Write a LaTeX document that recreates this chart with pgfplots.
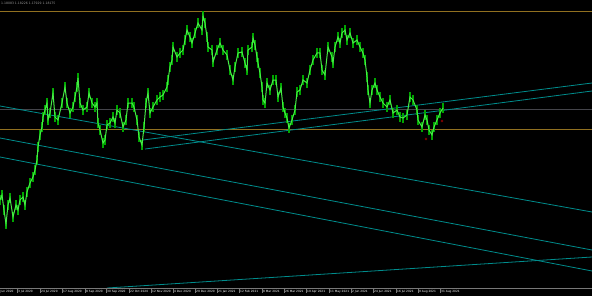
\documentclass[border=0pt]{standalone}
\usepackage{pgfplots}
\pgfplotsset{compat=1.18}
\usepackage{fontspec}
\setmainfont{DejaVu Sans}
\definecolor{bull}{RGB}{70,235,70}
\definecolor{wick}{RGB}{0,165,0}
\definecolor{tline}{RGB}{0,140,140}
\definecolor{gold}{RGB}{145,112,32}
\definecolor{hgray}{RGB}{68,68,74}
\definecolor{axgray}{RGB}{120,120,120}
\pgfplotstableread{
px py
0 200
2 195
4 210
6 224
8 205
10 198
13 217
16 205
18 210
20 200
23 197
25 205
27 192
30 183
33 177
35 170
37 160
38 147
40 135
42 127
43 117
45 110
47 103
48 120
50 113
53 93
55 117
58 120
62 103
65 87
67 103
70 113
73 107
75 97
77 87
78 78
80 103
83 110
87 107
89 93
92 103
95 107
97 103
98 123
100 130
103 143
105 140
107 125
110 123
113 117
115 123
117 110
120 113
123 127
126 120
128 103
132 103
134 107
137 120
139 137
142 145
144 127
146 103
148 93
150 113
153 107
157 100
160 97
163 95
167 87
168 80
170 67
172 60
173 47
177 57
180 53
183 50
185 40
187 30
190 37
192 43
195 33
198 23
202 30
203 16
205 23
207 37
208 47
212 50
213 62
217 50
220 43
223 50
227 55
230 70
233 80
235 67
238 53
242 52
245 63
247 70
248 50
252 47
253 38
255 45
257 57
258 63
260 73
262 87
263 100
265 103
267 83
270 90
273 80
276 80
278 97
281 88
283 107
285 113
287 118
289 128
292 120
295 110
297 92
300 90
303 80
307 83
310 70
313 60
317 53
320 53
322 70
325 75
328 47
332 57
333 63
335 47
338 37
340 43
342 33
345 30
347 40
350 33
353 43
357 40
360 47
363 53
365 60
367 77
368 90
370 103
372 90
375 83
377 90
380 97
383 103
387 107
390 100
393 113
397 110
400 117
403 118
407 115
410 97
413 100
417 110
418 120
422 127
425 115
427 120
429 130
432 135
434 127
437 120
440 113
443 108
}\price
\begin{document}
\begin{tikzpicture}
\begin{axis}[
  width=592bp, height=296bp, scale only axis,
  xmin=0, xmax=592, ymin=0, ymax=296, y dir=reverse,
  axis line style={draw=none}, ticks=none,
  axis background/.style={fill=black},
  clip=true,
]
% horizontal levels
\addplot[gold, line width=0.9bp] coordinates {(0,11) (592,11)};
\addplot[hgray, line width=1bp] coordinates {(0,109) (592,109)};
\addplot[gold, line width=0.9bp] coordinates {(0,129) (592,129)};
% trend lines
\addplot[tline, line width=0.8bp] coordinates {(0,106) (592,212)};
\addplot[tline, line width=0.8bp] coordinates {(0,138) (592,250)};
\addplot[tline, line width=0.8bp] coordinates {(0,157) (592,271)};
\addplot[tline, line width=0.8bp] coordinates {(107,288) (592,257)};
\addplot[tline, line width=0.8bp] coordinates {(143,140) (592,83)};
\addplot[tline, line width=0.8bp] coordinates {(145,149) (592,91)};
% candles
\addplot[wick, draw=none, mark=none,
  error bars/.cd, y dir=both, y fixed=5, error mark=none,
  error bar style={wick, line width=1.8bp}] table[x=px,y=py] {\price};
\addplot[bull, line width=1bp] table[x=px,y=py] {\price};
% arrows
\addplot[only marks, mark=o, mark size=1bp, color=red!55!black, line width=0.5bp] coordinates {(426,139) (442,121)};
% bottom axis strip
\addplot[black, fill=black, draw=none] coordinates {(0,288.4) (592,288.4) (592,296) (0,296)} -- cycle;
\addplot[axgray, line width=0.7bp] coordinates {(0,288) (592,288)};
\end{axis}
\node[anchor=west, inner sep=0pt, text=gray!80, font=\fontsize{3.1bp}{4bp}\selectfont] at (1bp,292.5bp) {1.18083 1.18226 1.17929 1.18175};
\foreach \xx/\lab in {0.5/Jun 2020, 18/3 Jul 2020, 41/24 Jul 2020, 63/17 Aug 2020, 86/8 Sep 2020, 107/30 Sep 2020, 130/22 Oct 2020, 152/12 Nov 2020, 174/4 Dec 2020, 196/29 Dec 2020, 218/21 Jan 2021, 240/12 Feb 2021, 263/8 Mar 2021, 285/26 Mar 2021, 307/19 Apr 2021, 330/11 May 2021, 352/2 Jun 2021, 374/24 Jun 2021, 397/16 Jul 2021, 419/9 Aug 2021, 441/31 Aug 2021} {
  \node[anchor=west, inner sep=0pt, text=white, font=\fontsize{2.9bp}{4bp}\selectfont] at (\xx bp,4.2bp) {\lab};
}
\foreach \xx in {17,40,62,85,106,129,151,173,195,217,239,262,284,306,329,351,373,396,418,440} {
  \draw[axgray, line width=0.4bp] (\xx bp,8bp) -- (\xx bp,2.5bp);
}
\end{tikzpicture}
\end{document}
